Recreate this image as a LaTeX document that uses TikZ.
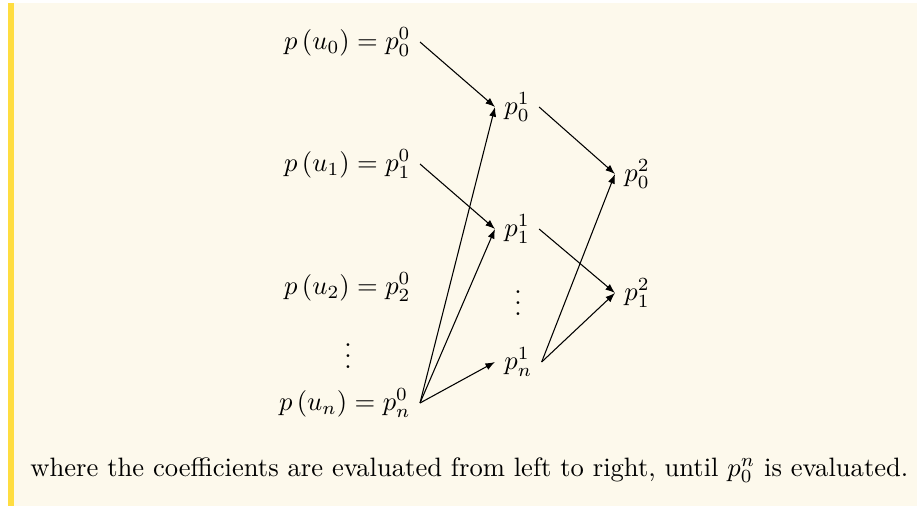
\documentclass[tikz,border=0pt]{standalone}
\usepackage{amsmath}
\usepackage{tikz}
\usetikzlibrary{positioning,arrows.meta}
\definecolor{notefill}{HTML}{FDF9EC}
\definecolor{notebar}{HTML}{FFDD40}
\tikzset{
  % --- coefficient nodes of the triangle ---
  coefl/.style={anchor=east},
  coefr/.style={anchor=west},
  % --- evaluation arrows ---
  evalflow/.style={-{Latex[length=3.6pt,width=2.7pt]}, draw=black},
}

\begin{document}
\begin{tikzpicture}[x=0.376pt, y=-0.376pt]
  % --- note box ---
  \useasboundingbox (0,0) rectangle (917,506);
  \fill[notefill] (14,3) rectangle (917,506);
  \fill[notebar] (8,3) rectangle (14,506);

  % --- column 0: p(u_i) ---
  \node[coefl] (u0) at (420,42)  {$p\left(u_0\right) = p_0^0$};
  \node[coefl] (u1) at (420,164) {$p\left(u_1\right) = p_1^0$};
  \node[coefl] (u2) at (420,287) {$p\left(u_2\right) = p_2^0$};
  \node (ud) at (348,348) {$\vdots$};
  \node[coefl] (un) at (420,403) {$p\left(u_n\right) = p_n^0$};

  % --- column 1 ---
  \node[coefr] (p01) at (495,107) {$p_0^1$};
  \node[coefr] (p11) at (495,229) {$p_1^1$};
  \node (pd1) at (518,295) {$\vdots$};
  \node[coefr] (pn1) at (495,362) {$p_n^1$};

  % --- column 2 ---
  \node[coefr] (p02) at (615,174) {$p_0^2$};
  \node[coefr] (p12) at (615,293) {$p_1^2$};

  % --- arrows, left to right ---
  \draw[evalflow] (u0.east) -- (p01.west);
  \draw[evalflow] (u1.east) -- (p11.west);
  \foreach \n in {p01,p11,pn1}
    \draw[evalflow] (un.east) -- (\n.west);
  \draw[evalflow] (p01.east) -- (p02.west);
  \draw[evalflow] (p11.east) -- (p12.west);
  \foreach \n in {p02,p12}
    \draw[evalflow] (pn1.east) -- (\n.west);

  % --- closing line ---
  \node[anchor=west] (note) at (21,470)
        {where the coefficients are evaluated from left to right, until $p_0^n$ is evaluated.};
\end{tikzpicture}
\end{document}
